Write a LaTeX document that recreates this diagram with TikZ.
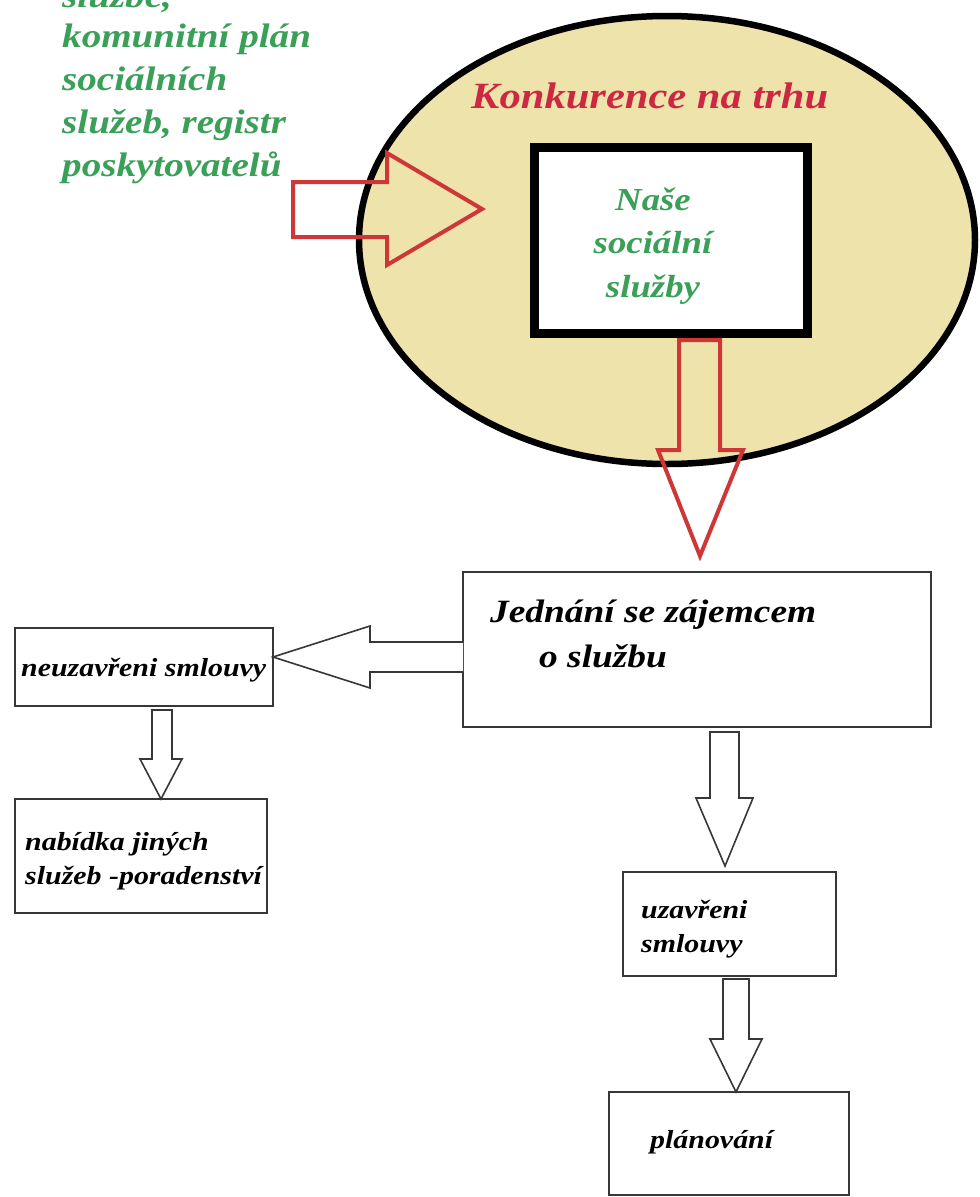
\documentclass[tikz,border=0pt]{standalone}
\usepackage{fontspec}
\setmainfont{Liberation Serif}[FakeStretch=1.15]
\usetikzlibrary{shapes.geometric}
\definecolor{txtgreen}{RGB}{58,160,88}
\definecolor{txtred}{RGB}{205,40,65}
\definecolor{arrred}{RGB}{205,55,55}
\definecolor{beige}{RGB}{239,227,172}
\definecolor{boxgray}{RGB}{55,55,55}
\tikzset{
  box/.style={draw=boxgray,line width=2pt,fill=white,inner sep=0,outer sep=0,anchor=north west},
  blockarrow/.style={draw=boxgray,line width=1.6pt,fill=white,line join=miter},
  redarrow/.style={draw=arrred,line width=4pt,line join=miter},
  lbl/.style={anchor=base west,inner sep=0,font=\bfseries\itshape\fontsize{26}{30}\selectfont},
  greenlbl/.style={anchor=base west,inner sep=0,text=txtgreen,font=\bfseries\itshape\fontsize{34}{43}\selectfont},
  naselbl/.style={anchor=base,inner sep=0,text=txtgreen,font=\bfseries\itshape\fontsize{32}{40}\selectfont}
}
\begin{document}
\begin{tikzpicture}[x=1pt,y=-1pt]
\clip (0,0) rectangle (980,1197);
\fill[white] (0,0) rectangle (980,1197);

% left green text
\node[greenlbl] (g1) at (62,7) {službě,};
\node[greenlbl] (g2) at (62,47) {komunitní plán};
\node[greenlbl] (g3) at (62,90) {sociálních};
\node[greenlbl] (g4) at (62,133) {služeb, registr};
\node[greenlbl] (g5) at (62,176) {poskytovatelů};

% market ellipse
\node[draw=black,line width=6.5pt,fill=beige,ellipse,inner sep=0,minimum width=616pt,minimum height=448pt] (market) at (667,240) {};
\node[anchor=base west,inner sep=0,text=txtred,font=\bfseries\itshape\fontsize{37}{40}\selectfont] (konk) at (471,108) {Konkurence na trhu};

% our services
\node[draw=black,line width=9pt,fill=white,inner sep=0,outer sep=0,anchor=north west,minimum width=273pt,minimum height=186pt] (nase) at (534.5,147.5) {};
\node[naselbl] (n1) at (653,210) {Naše};
\node[naselbl] (n2) at (653,253) {sociální};
\node[naselbl] (n3) at (653,297) {služby};

% red arrows
\draw[redarrow] (293,182) -- (387,182) -- (387,153) -- (482,209) -- (387,265) -- (387,237) -- (293,237) -- cycle;
\draw[redarrow] (679,340) -- (720,340) -- (720,450) -- (743,450) -- (700,556) -- (658,450) -- (679,450) -- cycle;

% flow boxes
\node[box,minimum width=468pt,minimum height=155pt] (jed) at (463,572) {};
\node[lbl,font=\bfseries\itshape\fontsize{32.5}{36}\selectfont] (j1) at (490,622) {Jednání se zájemcem};
\node[lbl,font=\bfseries\itshape\fontsize{32.5}{36}\selectfont] (j2) at (539,667) {o službu};

\node[box,minimum width=258pt,minimum height=78pt] (neuz) at (15,628) {};
\node[lbl] (t1) at (21,676) {neuzavřeni smlouvy};

\node[box,minimum width=252pt,minimum height=114pt] (nab) at (15,799) {};
\node[lbl] (t2) at (25,850) {nabídka jiných};
\node[lbl] (t3) at (25,884) {služeb -poradenství};

\node[box,minimum width=213pt,minimum height=104pt] (uzav) at (623,872) {};
\node[lbl] (t4) at (641,918) {uzavřeni};
\node[lbl] (t5) at (641,952) {smlouvy};

\node[box,minimum width=240pt,minimum height=103pt] (plan) at (609,1092) {};
\node[lbl] (t6) at (650,1148) {plánování};

% white block arrows
\draw[blockarrow] (jed.west |- 0,642) -- (370,642) -- (370,626) -- (neuz.east |- 0,657) -- (370,688) -- (370,672) -- (jed.west |- 0,672);
\draw[blockarrow] (152,710) -- (172,710) -- (172,759) -- (182,759) -- (nab.north -| 161,0) -- (140,759) -- (152,759) -- cycle;
\draw[blockarrow] (710,732) -- (739,732) -- (739,798) -- (753,798) -- (725,866) -- (696,798) -- (710,798) -- cycle;
\draw[blockarrow] (723,979) -- (749,979) -- (749,1039) -- (762,1039) -- (plan.north -| 736,0) -- (710,1039) -- (723,1039) -- cycle;
\end{tikzpicture}
\end{document}
